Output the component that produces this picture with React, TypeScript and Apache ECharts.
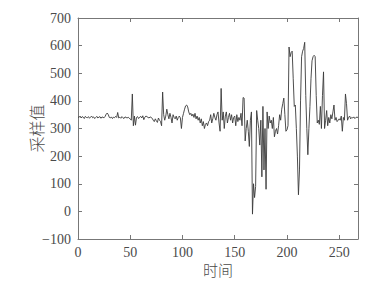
import React, { useEffect, useRef } from "react";
import * as echarts from "echarts";

const xTicks = [0, 50, 100, 150, 200, 250];
const yTicks = [-100, 0, 100, 200, 300, 400, 500, 600, 700];
const xName = "时间";
const yName = "采样值";

const samples: number[] = [
  342, 340, 345, 338, 343, 341, 336, 344, 340, 339,
  343, 337, 341, 345, 339, 342, 336, 340, 344, 338,
  341, 343, 337, 342, 340, 339, 344, 352, 356, 350,
  340, 338, 342, 336, 341, 339, 344, 340, 358, 338,
  341, 337, 343, 339, 336, 342, 340, 338, 341, 337,
  335, 330, 425, 310, 345, 312, 340, 343, 336, 341,
  344, 338, 346, 332, 341, 345, 343, 340, 338, 342,
  340, 337, 330, 325, 335, 328, 322, 338, 330, 325,
  310, 432, 350, 330, 345, 370, 350, 335, 355, 340,
  320, 350, 340, 335, 345, 330, 340, 345, 338, 300,
  340, 355, 370, 382, 385, 378, 360, 350, 355, 345,
  352, 340, 355, 335, 345, 330, 340, 320, 335, 310,
  325, 300, 315, 320, 310, 325, 330, 350, 320, 335,
  355, 340, 330, 350, 360, 320, 290, 445, 330, 360,
  300, 345, 360, 320, 340, 355, 330, 350, 320, 340,
  345, 310, 350, 325, 340, 330, 355, 310, 412, 410,
  255, 300, 330, 290, 235, 330, 360, -10, 100, 50,
  90, 365, 330, 300, 240, 330, 125, 380, 150, 300,
  80, 360, 300, 345, 320, 330, 300, 340, 270, 290,
  300, 280, 310, 350, 330, 370, 390, 410, 350, 290,
  295, 310, 595, 560, 575, 580, 480, 380, 385, 300,
  200, 60, 150, 400, 560, 580, 590, 612, 420, 300,
  205, 300, 380, 480, 545, 560, 565, 560, 420, 320,
  330, 315, 380, 300, 420, 505, 300, 330, 365, 310,
  340, 320, 350, 335, 360, 385, 330, 340, 325, 330,
  335, 330, 345, 290, 340, 330, 425, 390, 330, 340,
  345, 335, 340, 338, 342, 336, 340, 341, 340,
];

const SERIF = "'Liberation Serif', 'Times New Roman', serif";
const CJK = "'Noto Sans CJK SC', sans-serif";
const TEXT = "#4a4a4a";
const AXIS = "#777";

export default function App() {
  const ref = useRef<HTMLDivElement>(null);
  useEffect(() => {
    if (!ref.current) return;
    const chart = echarts.init(ref.current, undefined, { renderer: "svg" });
    const data = samples.map((v, i) => [i, v]);
    const common = {
      axisLine: { show: true, onZero: false, lineStyle: { color: AXIS, width: 1 } },
      axisTick: { show: true, inside: true, length: 4, lineStyle: { color: AXIS } },
      splitLine: { show: false },
    };
    chart.setOption({
      animation: false,
      backgroundColor: "#fff",
      grid: { left: 78, right: 30, top: 18, bottom: 45 },
      xAxis: [
        {
          type: "value",
          min: 0,
          max: 268,
          interval: 50,
          position: "bottom",
          ...common,
          axisLabel: {
            color: TEXT,
            fontFamily: SERIF,
            fontSize: 14,
            margin: 6,
            showMaxLabel: false,
            formatter: (v: number) => (xTicks.includes(v) ? String(v) : ""),
          },
          name: xName,
          nameLocation: "middle",
          nameGap: 23,
          nameMoveOverlap: false,
          nameTextStyle: { color: TEXT, fontFamily: CJK, fontSize: 15, fontWeight: 300 },
        },
        {
          type: "value",
          min: 0,
          max: 268,
          interval: 50,
          position: "top",
          ...common,
          axisLabel: { show: false },
        },
      ],
      yAxis: [
        {
          type: "value",
          min: -100,
          max: 700,
          interval: 100,
          position: "left",
          ...common,
          axisLabel: {
            color: TEXT,
            fontFamily: SERIF,
            fontSize: 14,
            margin: 7,
            formatter: (v: number) =>
              yTicks.includes(v) ? (v < 0 ? "\u2212" + Math.abs(v) : String(v)) : "",
          },
          name: yName,
          nameLocation: "middle",
          nameGap: 34,
          nameMoveOverlap: false,
          nameTextStyle: { color: TEXT, fontFamily: CJK, fontSize: 16, fontWeight: 300 },
        },
        {
          type: "value",
          min: -100,
          max: 700,
          interval: 100,
          position: "right",
          ...common,
          axisLabel: { show: false },
        },
      ],
      series: [
        {
          type: "line",
          data,
          showSymbol: false,
          symbol: "none",
          lineStyle: { color: "#3a3a3a", width: 0.9 },
          xAxisIndex: 0,
          yAxisIndex: 0,
        },
      ],
    });
    return () => chart.dispose();
  }, []);
  return <div ref={ref} style={{ width: 388, height: 284, marginLeft: -8, marginTop: -8 }} />;
}
